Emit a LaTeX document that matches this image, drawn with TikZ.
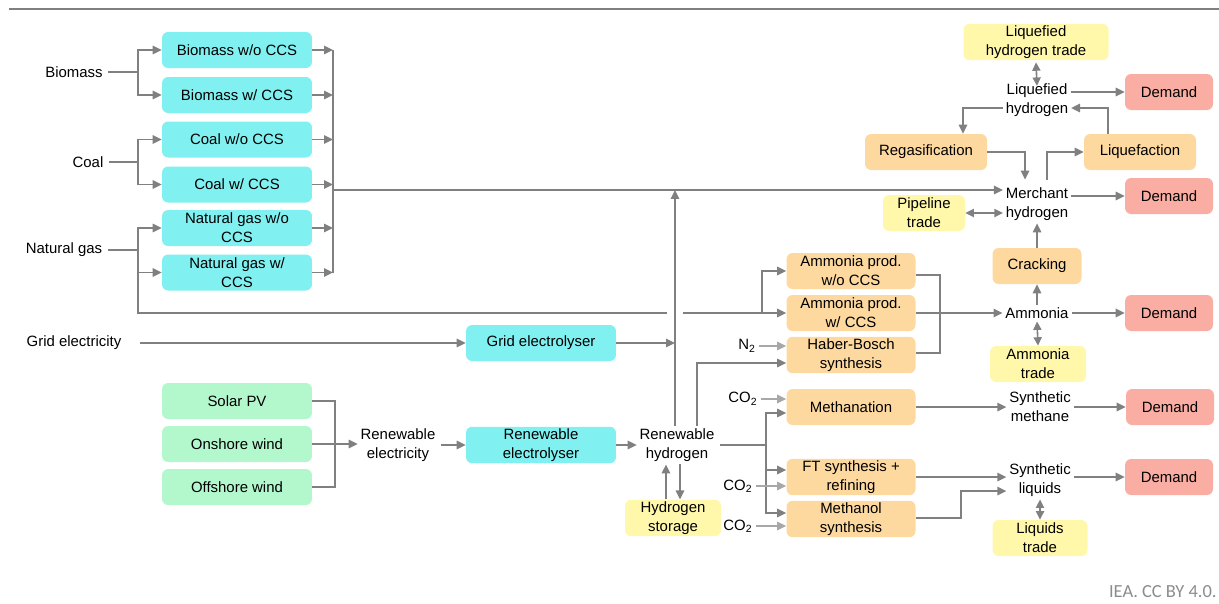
\documentclass[tikz,border=0pt]{standalone}
\usepackage{fontspec}
\setmainfont{Liberation Sans}
\newfontfamily\notefont{Carlito}
\usetikzlibrary{arrows.meta,calc}

\definecolor{boxcyan}{HTML}{80F0F0}
\definecolor{boxgreen}{HTML}{B3F7CD}
\definecolor{boxorange}{HTML}{FDD9A0}
\definecolor{boxyellow}{HTML}{FFF8AA}
\definecolor{boxred}{HTML}{FAAEA3}
\definecolor{linegray}{HTML}{808080}
\definecolor{feedgray}{HTML}{A8A8A8}
\definecolor{notegray}{HTML}{8C8C8C}

\begin{document}
\begin{tikzpicture}[x=0.02cm, y=-0.02cm,
  font=\fontsize{8.5}{10.8}\selectfont,
  box/.style={rounded corners=3.5pt, minimum height=0.72cm, align=center, inner sep=1pt},
  cyanbox/.style={box, fill=boxcyan, minimum width=3cm},
  greenbox/.style={box, fill=boxgreen, minimum width=3cm},
  orangebox/.style={box, fill=boxorange, minimum width=2.58cm},
  yellowbox/.style={box, fill=boxyellow},
  redbox/.style={box, fill=boxred, minimum width=1.76cm},
  txt/.style={align=center, inner sep=1.5pt},
  ln/.style={draw=linegray, line width=0.9pt},
  arr/.style={ln, -{Triangle[length=5.1pt,width=4.8pt]}},
  darr/.style={ln, {Triangle[length=4.8pt,width=4.6pt]}-{Triangle[length=4.8pt,width=4.6pt]}},
  feed/.style={draw=feedgray, line width=0.9pt, -{Triangle[length=5.1pt,width=4.8pt]}}
]
\useasboundingbox (0,0) rectangle (1219,603);

% header rule
\draw[draw=linegray, line width=1.1pt] (9,9) -- (1219,9);

% ---- fossil and bio routes
\node[txt] (bio)  at (74,72)  {Biomass};
\node[txt] (coal) at (88,162) {Coal};
\node[txt] (ng)   at (64,250) {Natural gas};
\node[cyanbox] (b1) at (237,50)    {Biomass w/o CCS};
\node[cyanbox] (b2) at (237,95)    {Biomass w/ CCS};
\node[cyanbox] (c1) at (237,139.5) {Coal w/o CCS};
\node[cyanbox] (c2) at (237,184.5) {Coal w/ CCS};
\node[cyanbox] (g1) at (237,228)   {Natural gas w/o\\CCS};
\node[cyanbox] (g2) at (237,272.5) {Natural gas w/\\CCS};

% ---- electricity routes
\node[txt] (gel) at (74,343) {Grid electricity};
\node[cyanbox] (ge) at (541,343) {Grid electrolyser};
\node[greenbox] (sp) at (237,401) {Solar PV};
\node[greenbox] (on) at (237,444) {Onshore wind};
\node[greenbox] (of) at (237,487) {Offshore wind};
\node[txt] (re)  at (398,445) {Renewable\\electricity};
\node[cyanbox] (rel) at (541,445) {Renewable\\electrolyser};
\node[txt] (rh)  at (677,445) {Renewable\\hydrogen};
\node[yellowbox, minimum width=1.92cm] (hs) at (673,518) {Hydrogen\\storage};

% ---- conversion processes
\node[orangebox] (ap1)  at (851,271) {Ammonia prod.\\w/o CCS};
\node[orangebox] (ap2)  at (851,313) {Ammonia prod.\\w/ CCS};
\node[orangebox] (hb)   at (851,355) {Haber-Bosch\\synthesis};
\node[orangebox] (meth) at (851,407) {Methanation};
\node[orangebox] (ft)   at (851,477) {FT synthesis +\\refining};
\node[orangebox] (mo)   at (851,519) {Methanol\\synthesis};
\node[txt] (n2)  at (747,346) {N\textsubscript{2}};
\node[txt] (co1) at (743,399) {CO\textsubscript{2}};
\node[txt] (co2) at (738,486) {CO\textsubscript{2}};
\node[txt] (co3) at (738,526) {CO\textsubscript{2}};

% ---- carriers, trade and demand
\node[yellowbox, minimum width=2.9cm] (lht) at (1036,42) {Liquefied\\hydrogen trade};
\node[txt] (lh) at (1037,100) {Liquefied\\hydrogen};
\node[redbox] (d1) at (1169,92) {Demand};
\node[orangebox, minimum width=2.44cm] (rg) at (926,152) {Regasification};
\node[orangebox, minimum width=2.24cm] (lq) at (1140,152) {Liquefaction};
\node[txt] (mh) at (1037,204) {Merchant\\hydrogen};
\node[redbox] (d2) at (1169,196) {Demand};
\node[yellowbox, minimum width=1.64cm] (pt) at (924,213) {Pipeline\\trade};
\node[orangebox, minimum width=1.78cm] (crk) at (1037,266) {Cracking};
\node[txt] (amm) at (1037,313) {Ammonia};
\node[redbox] (d3) at (1169,313) {Demand};
\node[yellowbox, minimum width=1.92cm] (atr) at (1038,364) {Ammonia\\trade};
\node[txt] (sm) at (1040,407) {Synthetic\\methane};
\node[redbox] (d4) at (1170,407) {Demand};
\node[txt] (sl) at (1040,480) {Synthetic\\liquids};
\node[redbox] (d5) at (1169,477) {Demand};
\node[yellowbox, minimum width=1.9cm] (ltr) at (1040,538) {Liquids\\trade};

\node[anchor=east, inner sep=0pt, text=notegray, font=\notefont\fontsize{10.5}{12}\selectfont] (src) at (1217,592) {IEA. CC BY 4.0.};

% ---- junction points
\coordinate (jb) at (138,72);
\coordinate (jc) at (138,162);
\coordinate (jg) at (138,250);
\coordinate (cx) at (333,190);
\coordinate (up) at (675,190);
\coordinate (hopL) at (667,313);
\coordinate (hopR) at (683,313);
\coordinate (ja) at (762,313);
\coordinate (jn) at (940,313);
\coordinate (jr) at (766,445);
\coordinate (jw) at (335,444);
\coordinate (hbfeed) at (697,363);
\coordinate (jm) at (961,518);

% feedstock splits
\draw[ln] ([xshift=1.5pt]bio.east) -- (jb);
\draw[arr] (jb) |- (b1.west);
\draw[arr] (jb) |- (b2.west);
\draw[ln] ([xshift=1.5pt]coal.east) -- (jc);
\draw[arr] (jc) |- (c1.west);
\draw[arr] (jc) |- (c2.west);
\draw[ln] ([xshift=1.5pt]ng.east) -- (jg);
\draw[arr] (jg) |- (g1.west);
\draw[arr] (jg) |- (g2.west);
\draw[ln] (jg) |- (hopL);
\draw[arr] (hopR) -- (ap2.west);
\draw[arr] (ja) |- (ap1.west);

% collector to merchant hydrogen
\foreach \n in {b1,b2,c1,c2,g1,g2}
  \draw[arr] (\n.east) -- (\n.east -| cx);
\draw[ln] (cx |- b1.east) -- (cx |- g2.east);
\draw[arr] (cx) -- (cx -| mh.west);

% grid route
\draw[arr] ([xshift=9pt]gel.east) -- (ge.west);
\draw[arr] (ge.east) -- (ge.east -| up);

% renewable route
\draw[ln] (sp.east) -| (jw) |- (of.east);
\draw[arr] (on.east) -- (on.east -| re.west);
\draw[arr] ([xshift=1.5pt]re.east) -- (rel.west);
\draw[arr] (rel.east) -- (rh.west);
\draw[arr] (rh.north -| up) -- (up);
\draw[arr] (rh.north -| hbfeed) -- (hbfeed) -- (hbfeed -| hb.west);
\draw[arr] ([xshift=-4pt]hs.north) -- ([xshift=-4pt]hs.north |- rh.south);
\draw[arr] ([xshift=4pt]hs.north |- rh.south) -- ([xshift=4pt]hs.north);

% synthesis feeds
\draw[ln] ([xshift=1.5pt]rh.east) -- (jr);
\draw[arr] (jr) |- ($(meth.west)+(0,6)$);
\draw[arr] (jr) |- ($(ft.west)+(0,-7)$);
\draw[arr] (jr) |- ($(mo.west)+(0,-6)$);
\draw[feed] (n2.east) -- (hb.west |- n2.east);
\draw[feed] (co1.east) -- (meth.west |- co1.east);
\draw[feed] (co2.east) -- (ft.west |- co2.east);
\draw[feed] (co3.east) -- (mo.west |- co3.east);

% ammonia
\draw[ln] ($(ap1.east)+(0,4)$) -| (jn) |- ($(hb.east)+(0,-2)$);
\draw[arr] (ap2.east) -- (amm.west);
\draw[arr] (amm.north) -- (crk.south);
\draw[arr] (crk.north) -- (mh.south);
\draw[darr] (amm.south) -- (atr.north);
\draw[arr] (amm.east) -- (d3.west);

% merchant and liquefied hydrogen
\draw[darr] (pt.east) -- (mh.west |- pt.east);
\draw[arr] (mh.east |- d2.west) -- (d2.west);
\draw[arr] (rg.east) -| ($(mh.north)+(-12,-5)$);
\draw[arr] ($(mh.north)+(10,-5)$) |- (lq.west);
\draw[arr] ($(lh.west)+(0,8)$) -| ($(rg.north)+(37,0)$);
\draw[arr] ($(lq.north)+(-32,0)$) |- ($(lh.east)+(0,8)$);
\draw[arr] (lh.east |- d1.west) -- (d1.west);
\draw[darr] ([yshift=-1pt]lht.south) -- ([yshift=-3pt]lh.north);

% synthetic fuels
\draw[arr] (meth.east) -- (sm.west);
\draw[arr] (sm.east) -- (d4.west);
\draw[arr] (ft.east) -- (sl.west |- ft.east);
\draw[arr] ($(mo.east)+(0,-1)$) -- (jm) |- ($(sl.west)+(0,11)$);
\draw[arr] (sl.east |- d5.west) -- (d5.west);
\draw[darr] (sl.south) -- (ltr.north);
\end{tikzpicture}
\end{document}
